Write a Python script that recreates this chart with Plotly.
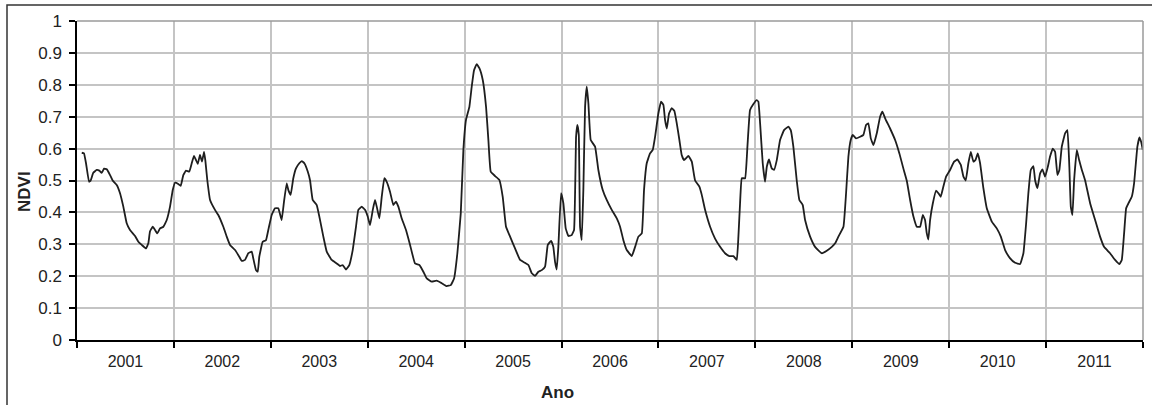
import plotly.graph_objects as go

# Time offsets (years since start of 2001) and NDVI values
t_years = [
    0.049, 0.072, 0.093, 0.124, 0.141, 0.168, 0.203, 0.230, 0.255, 0.279, 0.307, 0.341, 0.368, 0.410, 0.444,
    0.478, 0.513, 0.547, 0.599, 0.633, 0.668, 0.712, 0.736, 0.753, 0.781, 0.805, 0.829, 0.857, 0.891, 0.926,
    0.960, 0.988, 1.011, 1.045, 1.070, 1.097, 1.125, 1.159, 1.184, 1.207, 1.228, 1.246, 1.269, 1.290, 1.311,
    1.324, 1.345, 1.373, 1.424, 1.458, 1.510, 1.545, 1.579, 1.631, 1.665, 1.700, 1.734, 1.768, 1.803, 1.819,
    1.847, 1.865, 1.881, 1.916, 1.950, 1.974, 2.009, 2.043, 2.077, 2.112, 2.136, 2.164, 2.181, 2.205, 2.232,
    2.260, 2.294, 2.319, 2.346, 2.381, 2.405, 2.432, 2.474, 2.508, 2.542, 2.577, 2.628, 2.680, 2.714, 2.742,
    2.776, 2.810, 2.845, 2.879, 2.903, 2.938, 2.972, 3.000, 3.024, 3.052, 3.075, 3.093, 3.120, 3.145, 3.171,
    3.196, 3.230, 3.264, 3.292, 3.316, 3.351, 3.395, 3.437, 3.488, 3.533, 3.574, 3.609, 3.661, 3.712, 3.764,
    3.815, 3.857, 3.891, 3.925, 3.960, 3.987, 4.014, 4.049, 4.073, 4.097, 4.125, 4.152, 4.187, 4.221, 4.245,
    4.269, 4.314, 4.358, 4.393, 4.427, 4.469, 4.520, 4.572, 4.623, 4.658, 4.693, 4.727, 4.761, 4.796, 4.830,
    4.858, 4.892, 4.915, 4.933, 4.950, 4.967, 4.995, 5.019, 5.043, 5.071, 5.105, 5.129, 5.150, 5.163, 5.178,
    5.191, 5.208, 5.225, 5.243, 5.260, 5.277, 5.301, 5.346, 5.380, 5.425, 5.466, 5.518, 5.570, 5.604, 5.638,
    5.673, 5.725, 5.759, 5.793, 5.828, 5.851, 5.879, 5.913, 5.941, 5.965, 5.999, 6.027, 6.051, 6.068, 6.086,
    6.109, 6.137, 6.164, 6.189, 6.216, 6.240, 6.264, 6.309, 6.344, 6.378, 6.422, 6.447, 6.481, 6.533, 6.584,
    6.636, 6.687, 6.732, 6.773, 6.808, 6.825, 6.842, 6.860, 6.894, 6.918, 6.945, 6.980, 7.014, 7.031, 7.049,
    7.076, 7.100, 7.118, 7.141, 7.169, 7.193, 7.221, 7.255, 7.296, 7.341, 7.365, 7.392, 7.427, 7.454, 7.489,
    7.513, 7.565, 7.616, 7.685, 7.737, 7.789, 7.823, 7.857, 7.909, 7.936, 7.960, 7.984, 8.005, 8.039, 8.081,
    8.115, 8.142, 8.166, 8.191, 8.218, 8.253, 8.287, 8.311, 8.339, 8.390, 8.442, 8.486, 8.527, 8.562, 8.597,
    8.631, 8.666, 8.700, 8.728, 8.751, 8.769, 8.785, 8.803, 8.831, 8.865, 8.889, 8.913, 8.940, 8.968, 9.009,
    9.051, 9.085, 9.120, 9.147, 9.171, 9.198, 9.223, 9.250, 9.271, 9.295, 9.319, 9.353, 9.388, 9.440, 9.491,
    9.533, 9.577, 9.629, 9.680, 9.732, 9.766, 9.794, 9.817, 9.842, 9.869, 9.887, 9.911, 9.938, 9.962, 9.990,
    10.018, 10.041, 10.069, 10.093, 10.117, 10.137, 10.162, 10.196, 10.220, 10.240, 10.255, 10.272, 10.289, 10.317, 10.341,
    10.369, 10.403, 10.455, 10.506, 10.557, 10.598, 10.660, 10.712, 10.756, 10.781, 10.805, 10.826, 10.849, 10.884, 10.908,
    10.929, 10.942, 10.963, 10.980, 10.998,
]
ndvi = [
    0.587, 0.585, 0.554, 0.496, 0.500, 0.524, 0.533, 0.531, 0.524, 0.537, 0.535, 0.517, 0.500, 0.486, 0.460,
    0.418, 0.366, 0.345, 0.326, 0.308, 0.298, 0.287, 0.303, 0.340, 0.355, 0.345, 0.334, 0.350, 0.355, 0.376,
    0.418, 0.470, 0.493, 0.489, 0.483, 0.517, 0.531, 0.528, 0.554, 0.577, 0.564, 0.552, 0.580, 0.559, 0.590,
    0.564, 0.500, 0.439, 0.408, 0.392, 0.355, 0.324, 0.298, 0.282, 0.266, 0.248, 0.251, 0.272, 0.277, 0.256,
    0.219, 0.214, 0.261, 0.308, 0.313, 0.345, 0.392, 0.413, 0.413, 0.376, 0.434, 0.491, 0.470, 0.455, 0.507,
    0.538, 0.554, 0.561, 0.554, 0.528, 0.500, 0.439, 0.423, 0.376, 0.324, 0.277, 0.251, 0.240, 0.232, 0.235,
    0.221, 0.235, 0.282, 0.355, 0.408, 0.418, 0.408, 0.387, 0.360, 0.408, 0.439, 0.418, 0.381, 0.450, 0.507,
    0.496, 0.465, 0.423, 0.434, 0.418, 0.381, 0.345, 0.298, 0.240, 0.235, 0.214, 0.193, 0.183, 0.186, 0.178,
    0.169, 0.172, 0.193, 0.272, 0.397, 0.596, 0.690, 0.731, 0.794, 0.846, 0.865, 0.852, 0.815, 0.731, 0.627,
    0.528, 0.514, 0.502, 0.449, 0.355, 0.324, 0.287, 0.251, 0.242, 0.235, 0.209, 0.201, 0.214, 0.219, 0.230,
    0.298, 0.311, 0.292, 0.245, 0.221, 0.292, 0.460, 0.428, 0.350, 0.326, 0.329, 0.345, 0.637, 0.674, 0.643,
    0.355, 0.313, 0.470, 0.731, 0.794, 0.742, 0.627, 0.606, 0.533, 0.470, 0.439, 0.408, 0.381, 0.355, 0.313,
    0.282, 0.263, 0.292, 0.324, 0.334, 0.470, 0.554, 0.585, 0.596, 0.637, 0.710, 0.747, 0.737, 0.690, 0.663,
    0.710, 0.727, 0.718, 0.679, 0.627, 0.580, 0.564, 0.577, 0.559, 0.500, 0.481, 0.455, 0.408, 0.355, 0.318,
    0.292, 0.272, 0.263, 0.263, 0.251, 0.324, 0.428, 0.507, 0.507, 0.606, 0.721, 0.740, 0.752, 0.747, 0.679,
    0.554, 0.496, 0.543, 0.566, 0.538, 0.533, 0.564, 0.627, 0.658, 0.669, 0.658, 0.606, 0.500, 0.439, 0.423,
    0.376, 0.324, 0.292, 0.272, 0.280, 0.292, 0.303, 0.324, 0.355, 0.460, 0.575, 0.627, 0.643, 0.632, 0.637,
    0.643, 0.674, 0.679, 0.632, 0.611, 0.648, 0.700, 0.716, 0.695, 0.663, 0.627, 0.585, 0.538, 0.500, 0.439,
    0.387, 0.355, 0.355, 0.392, 0.376, 0.334, 0.315, 0.376, 0.428, 0.468, 0.460, 0.449, 0.481, 0.512, 0.533,
    0.559, 0.566, 0.549, 0.512, 0.500, 0.554, 0.590, 0.559, 0.564, 0.585, 0.554, 0.476, 0.413, 0.371, 0.350,
    0.324, 0.282, 0.256, 0.242, 0.238, 0.272, 0.366, 0.460, 0.533, 0.545, 0.500, 0.476, 0.522, 0.535, 0.512,
    0.543, 0.575, 0.600, 0.590, 0.517, 0.533, 0.606, 0.648, 0.658, 0.543, 0.418, 0.392, 0.500, 0.596, 0.564,
    0.533, 0.500, 0.428, 0.376, 0.324, 0.292, 0.272, 0.251, 0.238, 0.251, 0.334, 0.413, 0.428, 0.449, 0.491,
    0.564, 0.606, 0.635, 0.622, 0.596,
]

start_year = 2001
years = list(range(2001, 2012))
year_labels = [str(y) for y in years]
x_vals = [start_year + t for t in t_years]

fig = go.Figure()
fig.add_trace(go.Scatter(
    x=x_vals, y=ndvi, mode="lines",
    line=dict(color="#1e1e1e", width=1.8, shape="spline", smoothing=0.3),
    showlegend=False, hoverinfo="skip",
))

font_family = "Liberation Sans, Arial, sans-serif"

fig.update_layout(
    width=1152, height=405,
    margin=dict(l=77, r=9, t=21, b=65),
    paper_bgcolor="white", plot_bgcolor="white",
    font=dict(family=font_family, size=16, color="#222222"),
    xaxis=dict(
        range=[2001, 2012],
        automargin=False,
        tickmode="array",
        tickvals=[y + 0.5 for y in years],
        ticktext=year_labels,
        ticks="", showgrid=False, zeroline=False,
        ticklabelstandoff=6,
        showline=True, linecolor="black", linewidth=1.5,
        mirror=False,
        minor=dict(
            tickmode="array",
            tickvals=list(range(2001, 2013)),
            ticks="outside", ticklen=6, tickwidth=1.5, tickcolor="black",
            showgrid=True, gridcolor="#c4c4c4", gridwidth=1.5,
        ),
        tickfont=dict(size=16, color="#222222"),
    ),
    yaxis=dict(
        range=[0, 1], tickmode="linear", tick0=0, dtick=0.1,
        automargin=False,
        ticks="outside", ticklen=6, tickwidth=1.5, tickcolor="black",
        ticklabelstandoff=4,
        showgrid=True, gridcolor="#c4c4c4", gridwidth=1.5,
        zeroline=False,
        showline=True, linecolor="black", linewidth=1.5,
        tickfont=dict(size=17, color="#222222"),
    ),
    shapes=[
        # plot-area border (top and right) in gray
        dict(type="line", xref="paper", yref="paper", x0=0, x1=1, y0=1, y1=1,
             line=dict(color="#9a9a9a", width=1.5)),
        dict(type="line", xref="paper", yref="paper", x0=1, x1=1, y0=0, y1=1,
             line=dict(color="#9a9a9a", width=1.5)),
        # outer chart border
        dict(type="rect", xref="paper", yref="paper",
             x0=(7 - 77) / 1066, x1=1.02, y0=-0.3, y1=(340 - 5) / 319,
             line=dict(color="#333333", width=1.5)),
    ],
    annotations=[
        dict(text="<b>NDVI</b>", xref="paper", yref="paper",
             x=(25 - 77) / 1066, y=0.464, textangle=-90, showarrow=False,
             xanchor="center", yanchor="middle",
             font=dict(size=17, color="#222222")),
        dict(text="<b>Ano</b>", xref="paper", yref="paper",
             x=(557 - 77) / 1066, y=(340 - 392) / 319, showarrow=False,
             xanchor="center", yanchor="middle",
             font=dict(size=17, color="#222222")),
    ],
)

fig.write_html(
    "out.html",
    config={"displayModeBar": False},
    post_script="document.body.style.margin='0';document.body.style.padding='0';",
)
